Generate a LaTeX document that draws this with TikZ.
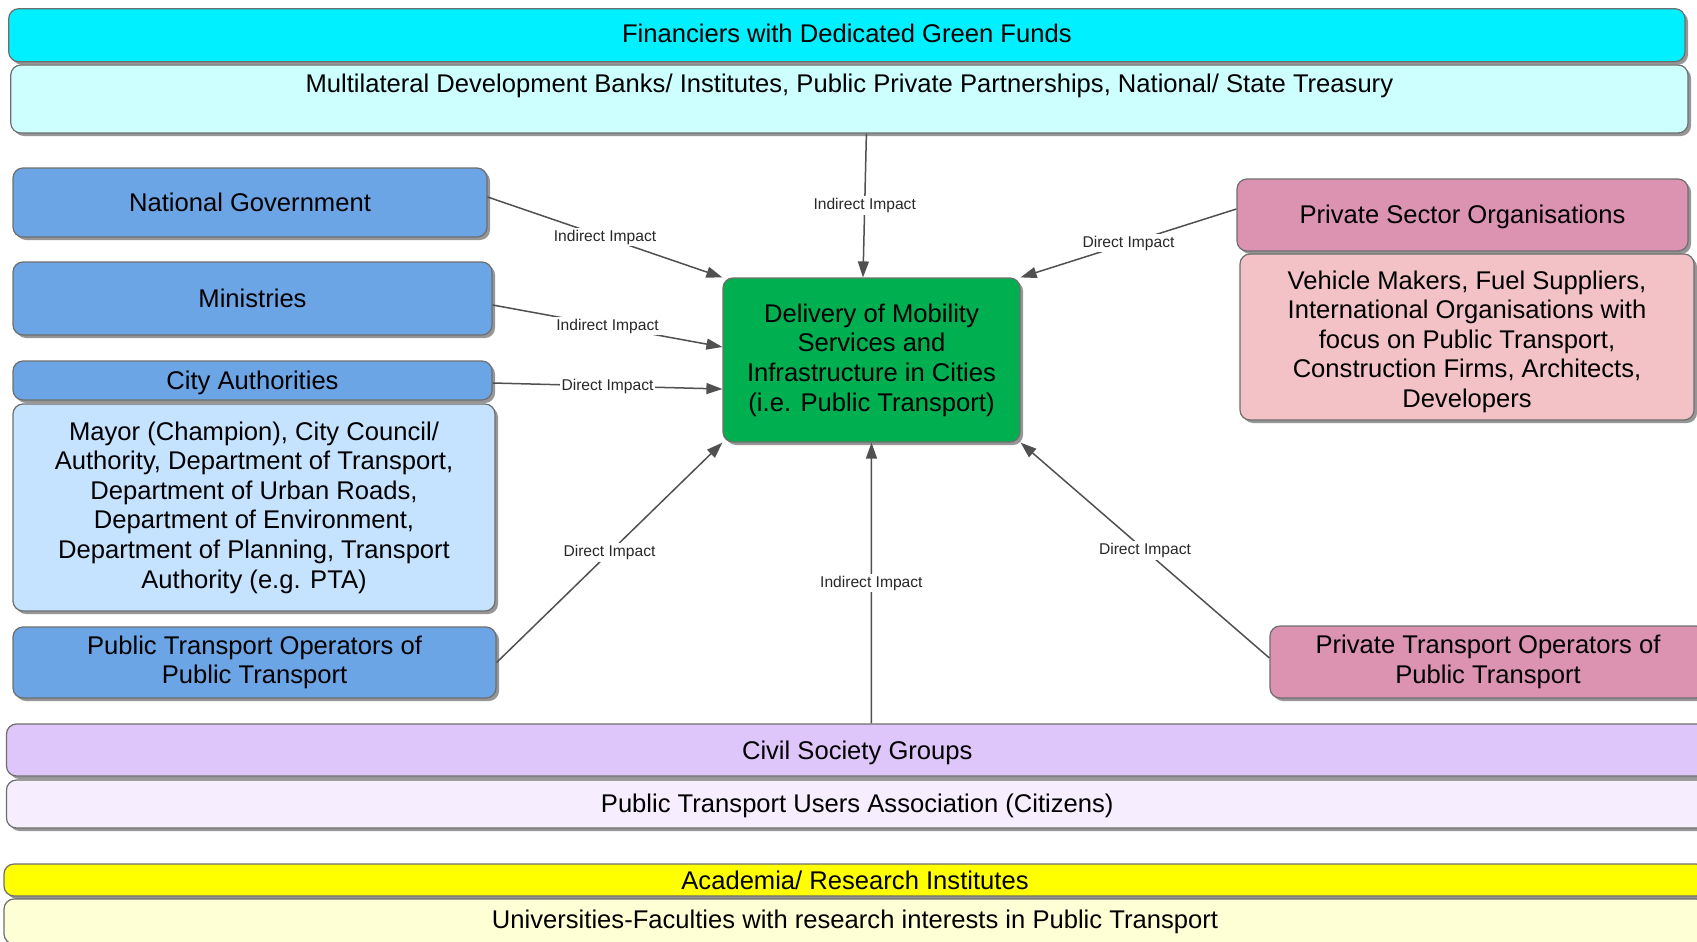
\documentclass[tikz,border=0pt]{standalone}
\usepackage{fontspec}
\setmainfont{Liberation Sans}
\usetikzlibrary{shadows,arrows.meta}

\definecolor{cyanA}{RGB}{0,240,255}
\definecolor{cyanB}{RGB}{206,255,255}
\definecolor{blueA}{RGB}{108,165,230}
\definecolor{blueB}{RGB}{197,226,255}
\definecolor{greenA}{RGB}{0,176,80}
\definecolor{pinkA}{RGB}{220,146,177}
\definecolor{pinkB}{RGB}{242,194,198}
\definecolor{lavA}{RGB}{222,198,250}
\definecolor{lavB}{RGB}{246,238,255}
\definecolor{yelA}{RGB}{255,255,0}
\definecolor{yelB}{RGB}{255,255,214}
\definecolor{boxline}{RGB}{110,110,110}
\definecolor{shadowgray}{RGB}{150,150,150}
\definecolor{linegray}{RGB}{80,80,80}
\definecolor{labeltext}{RGB}{40,40,40}

\newcommand\boxfont{\fontsize{12.8pt}{14.8pt}\selectfont}
\newcommand\lblfont{\fontsize{7.8pt}{9pt}\selectfont}
% move a text vertically without changing its box size
\newcommand\nudge[2]{\raisebox{#1}[\height][\depth]{#2}}

\begin{document}
\begin{tikzpicture}[x=0.5pt,y=-0.5pt,
  box/.style={draw=boxline, line width=0.6pt, rounded corners=5pt,
    inner sep=0pt, align=center, font=\boxfont,
    drop shadow={shadow xshift=1.5pt, shadow yshift=-1.5pt,
      fill=shadowgray, opacity=1}},
  sz/.style 2 args={minimum width=#1pt, minimum height=#2pt},
  imp/.style={draw=linegray, line width=0.75pt,
    -{Triangle[length=8pt,width=5.5pt]}},
  lbl/.style={fill=white, inner sep=1pt, font=\lblfont, text=labeltext}]

\useasboundingbox (0,0) rectangle (1697,942);

% financiers
\node[box, fill=cyanA, sz={838.15}{26.5}] (fin) at (846.85,35.2)
  {\nudge{1.1pt}{Financiers with Dedicated Green Funds}};
\node[box, fill=cyanB, sz={838.6}{34}] (mdb) at (849.4,99)
  {\raisebox{3.5pt}[0pt][0pt]{Multilateral Development Banks/ Institutes, Public Private Partnerships, National/ State Treasury}};

% public sector
\node[box, fill=blueA, sz={237}{34.5}] (natgov) at (250,202.5) {National Government};
\node[box, fill=blueA, sz={239.5}{36.5}] (minist) at (252.5,298.5) {Ministries};
\node[box, fill=blueA, sz={239.5}{19.5}] (city) at (252.5,380.5) {\nudge{-1.4pt}{City Authorities}};
\node[box, fill=blueB, sz={241}{103.5}] (mayor) at (254,507.5)
  {Mayor (Champion), City Council/\\Authority, Department of Transport,\\Department of Urban Roads,\\Department of Environment,\\Department of Planning, Transport\\Authority (e.g. PTA)};
\node[box, fill=blueA, sz={241.5}{35.5}] (pto) at (254.5,662.5)
  {Public Transport Operators of\\Public Transport};

% centre
\node[box, fill=greenA, sz={148.5}{82}] (green) at (871.5,360)
  {Delivery of Mobility\\Services and\\Infrastructure in Cities\\(i.e. Public Transport)};

% private sector
\node[box, fill=pinkA, sz={225.5}{36}] (ps) at (1462.5,215) {\nudge{-1.1pt}{Private Sector Organisations}};
\node[box, fill=pinkB, sz={227}{83}] (psd) at (1467,337)
  {\nudge{-2.7pt}{\begin{tabular}{@{}c@{}}Vehicle Makers, Fuel Suppliers,\\International Organisations with\\focus on Public Transport,\\Construction Firms, Architects,\\Developers\end{tabular}}};
\node[box, fill=pinkA, sz={218}{36}] (pt) at (1488,662)
  {Private Transport Operators of\\Public Transport};

% civil society and academia
\node[box, fill=lavA, sz={850.75}{26}] (civil) at (857.25,750) {\nudge{-1.5pt}{Civil Society Groups}};
\node[box, fill=lavB, sz={850.75}{24}] (users) at (857.25,804) {\nudge{-1pt}{Public Transport Users Association (Citizens)}};
\node[box, fill=yelA, sz={851}{16}] (acad) at (855,880) {Academia/ Research Institutes};
\node[box, fill=yelB, sz={851}{22.5}] (univ) at (855,921.5) {Universities-Faculties with research interests in Public Transport};

% impacts
\draw[imp] ([yshift=2.75pt]natgov.east) -- (green.north west)
  node[lbl, midway] {Indirect Impact};
\draw[imp] ([yshift=-3.25pt]minist.east) -- ([yshift=6.5pt]green.west)
  node[lbl, midway] {Indirect Impact};
\draw[imp] ([yshift=-1.25pt]city.east) -- ([yshift=-14.5pt]green.west)
  node[lbl, midway] {Direct Impact};
\draw[imp] (pto.east) -- (green.south west)
  node[lbl, midway] {Direct Impact};
\draw[imp] ([xshift=8.5pt]mdb.south) -- ([xshift=-4.25pt]green.north)
  node[lbl, midway] {Indirect Impact};
\draw[imp] ([yshift=3pt]ps.west) -- (green.north east)
  node[lbl, midway] {Direct Impact};
\draw[imp] ([xshift=7pt]civil.north) -- (green.south)
  node[lbl, midway] {Indirect Impact};
\draw[imp] ([yshift=2pt]pt.west) -- (green.south east)
  node[lbl, midway] {Direct Impact};

\end{tikzpicture}
\end{document}
